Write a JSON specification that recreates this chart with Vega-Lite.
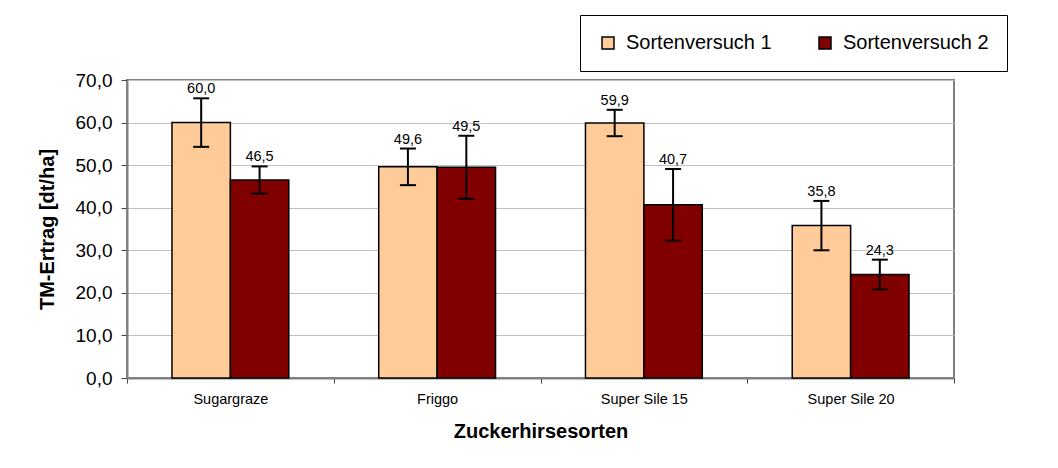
{
  "$schema": "https://vega.github.io/schema/vega-lite/v6.json",
  "width": 827,
  "height": 298,
  "autosize": {"type": "none"},
  "padding": {"left": 127, "top": 80, "right": 104, "bottom": 90},
  "background": "white",
  "data": {
    "values": [
      {"sorte": "Sugargraze", "versuch": "Sortenversuch 1", "ertrag": 60.0, "lo": 54.3, "hi": 65.7},
      {"sorte": "Sugargraze", "versuch": "Sortenversuch 2", "ertrag": 46.5, "lo": 43.3, "hi": 49.7},
      {"sorte": "Friggo", "versuch": "Sortenversuch 1", "ertrag": 49.6, "lo": 45.3, "hi": 53.9},
      {"sorte": "Friggo", "versuch": "Sortenversuch 2", "ertrag": 49.5, "lo": 42.1, "hi": 56.9},
      {"sorte": "Super Sile 15", "versuch": "Sortenversuch 1", "ertrag": 59.9, "lo": 56.8, "hi": 63.0},
      {"sorte": "Super Sile 15", "versuch": "Sortenversuch 2", "ertrag": 40.7, "lo": 32.3, "hi": 49.1},
      {"sorte": "Super Sile 20", "versuch": "Sortenversuch 1", "ertrag": 35.8, "lo": 30.0, "hi": 41.6},
      {"sorte": "Super Sile 20", "versuch": "Sortenversuch 2", "ertrag": 24.3, "lo": 20.8, "hi": 27.8}
    ]
  },
  "encoding": {
    "x": {
      "field": "sorte",
      "type": "nominal",
      "sort": ["Sugargraze", "Friggo", "Super Sile 15", "Super Sile 20"],
      "scale": {"paddingInner": 0, "paddingOuter": 0},
      "title": "Zuckerhirsesorten",
      "axis": {
        "tickBand": "extent",
        "labelAngle": 0,
        "labelFontSize": 14.5,
        "tickSize": 5,
        "labelPadding": 9,
        "titleFontSize": 20,
        "titleFontWeight": "bold",
        "titlePadding": 16,
        "domainColor": "#808080",
        "domainWidth": 2,
        "tickColor": "#404040",
        "grid": false
      }
    },
    "xOffset": {
      "field": "versuch",
      "type": "nominal",
      "scale": {"paddingInner": 0, "paddingOuter": 0.77}
    }
  },
  "layer": [
    {
      "mark": {"type": "bar", "stroke": "black", "strokeWidth": 1.5},
      "encoding": {
        "y": {
          "field": "ertrag",
          "type": "quantitative",
          "scale": {"domain": [0, 70], "nice": false},
          "title": "TM-Ertrag [dt/ha]",
          "axis": {
            "values": [0, 10, 20, 30, 40, 50, 60, 70],
            "format": ".1f",
            "labelFontSize": 19,
            "tickSize": 6,
            "labelPadding": 9,
            "domainColor": "#808080",
            "domainWidth": 2,
            "tickColor": "#404040",
            "grid": true,
            "gridColor": "#C0C0C0",
            "titleFontSize": 20,
            "titleFontWeight": "bold",
            "titlePadding": 18
          }
        },
        "color": {
          "field": "versuch",
          "type": "nominal",
          "scale": {"range": ["#FFCC99", "#800000"]},
          "legend": {
            "orient": "none",
            "legendX": 453,
            "legendY": -65,
            "direction": "horizontal",
            "title": null,
            "symbolType": "square",
            "symbolSize": 144,
            "symbolStrokeColor": "black",
            "symbolStrokeWidth": 1.5,
            "labelFontSize": 20,
            "labelColor": "black",
            "labelLimit": 300,
            "labelOffset": 8,
            "padding": 18,
            "strokeColor": "black",
            "fillColor": "white",
            "columnPadding": 43
          }
        }
      }
    },
    {
      "mark": {"type": "rule", "strokeWidth": 2, "color": "black"},
      "encoding": {
        "y": {"field": "lo", "type": "quantitative", "title": "TM-Ertrag [dt/ha]"},
        "y2": {"field": "hi"}
      }
    },
    {
      "mark": {"type": "tick", "thickness": 2, "size": 16, "color": "black", "opacity": 1},
      "encoding": {
        "y": {"field": "lo", "type": "quantitative", "title": "TM-Ertrag [dt/ha]"}
      }
    },
    {
      "mark": {"type": "tick", "thickness": 2, "size": 16, "color": "black", "opacity": 1},
      "encoding": {
        "y": {"field": "hi", "type": "quantitative", "title": "TM-Ertrag [dt/ha]"}
      }
    },
    {
      "mark": {"type": "text", "dy": -5, "baseline": "alphabetic", "fontSize": 14.5, "color": "black"},
      "encoding": {
        "y": {"field": "hi", "type": "quantitative", "title": "TM-Ertrag [dt/ha]"},
        "text": {"field": "ertrag", "type": "quantitative", "format": ".1f"}
      }
    }
  ],
  "config": {
    "font": "Liberation Sans",
    "locale": {"number": {"decimal": ",", "thousands": ".", "grouping": [3], "currency": ["", " €"]}},
    "view": {"stroke": "#808080", "strokeWidth": 2},
    "axis": {"labelColor": "black", "titleColor": "black"}
  }
}
